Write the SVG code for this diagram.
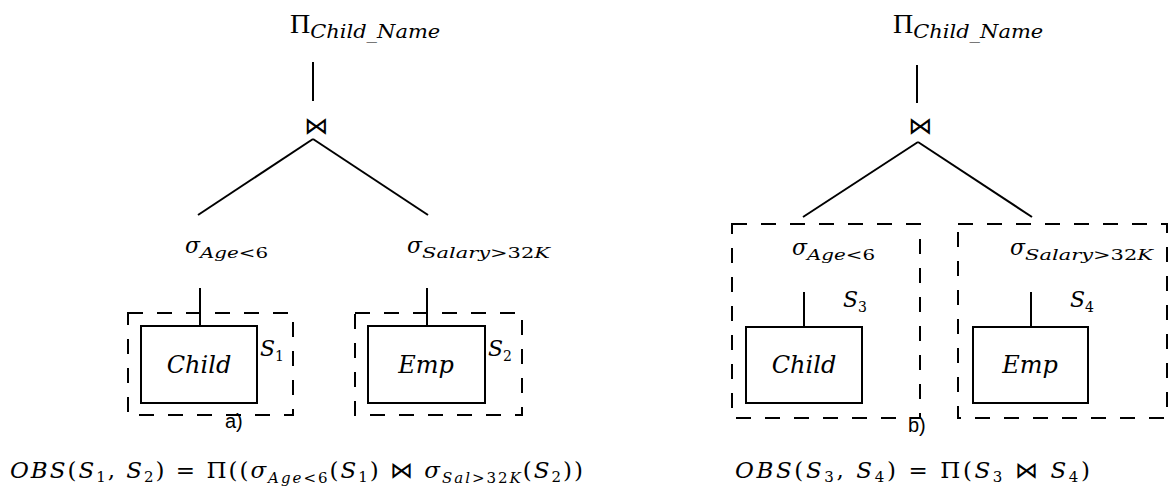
<svg xmlns="http://www.w3.org/2000/svg" width="1173" height="500" viewBox="0 0 1173 500">
<style>
.t{font-family:"DejaVu Serif","Liberation Serif",serif;fill:#000}
.i{font-style:italic}
.pi{font-size:28px;font-family:"Liberation Serif",serif}
.sub{font-size:18px;font-style:italic}
.sg{font-size:22px;font-style:italic}
.ss{font-size:15px}
.rel{font-size:24px;font-style:italic}
.s{font-size:22px;font-style:italic}
.sn{font-size:14px;font-style:normal}
.f{font-size:23px}
.fs{font-size:15px}
.j{font-family:"DejaVu Sans",sans-serif;font-size:24px;fill:#000}
.lab{font-family:"Liberation Sans","DejaVu Sans",sans-serif;font-size:20px;fill:#000}
.box{fill:#fff;stroke:#000;stroke-width:2}
.dash{fill:none;stroke:#000;stroke-width:2;stroke-dasharray:15 14}
.edge{stroke:#000;stroke-width:2;fill:none}
</style>
<rect width="1173" height="500" fill="#fff"/>

<g id="connectors">
<line class="edge" x1="313" y1="62" x2="313" y2="101"/>
<line class="edge" x1="313" y1="139" x2="198" y2="215"/>
<line class="edge" x1="313" y1="139" x2="428" y2="215"/>
<line class="edge" x1="200" y1="288" x2="200" y2="326"/>
<line class="edge" x1="427" y1="288" x2="427" y2="326"/>
<line class="edge" x1="917" y1="65" x2="917" y2="103"/>
<line class="edge" x1="918" y1="142" x2="803" y2="217"/>
<line class="edge" x1="918" y1="142" x2="1032" y2="217"/>
<line class="edge" x1="804" y1="292" x2="804" y2="327"/>
<line class="edge" x1="1031" y1="292" x2="1031" y2="327"/>
</g>

<!-- a) -->
<g id="proj-a"><text class="t" x="290" y="33"><tspan class="pi">Π</tspan><tspan class="sub" dy="5" textLength="130" lengthAdjust="spacingAndGlyphs">Child_Name</tspan></text></g>
<g id="join-a"><text class="j" x="316" y="134" text-anchor="middle">⋈</text></g>
<g id="sel-age-a"><text class="t" x="185" y="253"><tspan class="sg">σ</tspan><tspan class="ss" dy="5" textLength="68" lengthAdjust="spacingAndGlyphs"><tspan class="i">Age</tspan>&lt;6</tspan></text></g>
<g id="sel-sal-a"><text class="t" x="407" y="253"><tspan class="sg">σ</tspan><tspan class="ss" dy="5" textLength="128" lengthAdjust="spacingAndGlyphs"><tspan class="i">Salary</tspan>&gt;32<tspan class="i">K</tspan></tspan></text></g>
<g id="site-s1">
<rect class="dash" x="128" y="313" width="165" height="102"/>
<text class="t s" x="260" y="356">S<tspan class="sn" dy="5">1</tspan></text>
</g>
<g id="child-a">
<rect class="box" x="141" y="326" width="116" height="77"/>
<text class="t rel" x="199" y="373" text-anchor="middle">Child</text>
</g>
<g id="site-s2">
<rect class="dash" x="355" y="313" width="167" height="102"/>
<text class="t s" x="488" y="356">S<tspan class="sn" dy="5">2</tspan></text>
</g>
<g id="emp-a">
<rect class="box" x="368" y="326" width="117" height="77"/>
<text class="t rel" x="426" y="373" text-anchor="middle">Emp</text>
</g>
<g id="label-a"><text class="lab" x="225" y="428">a)</text></g>
<g id="formula-a"><text class="t f" x="10" y="478" textLength="573" lengthAdjust="spacing"><tspan class="i">OBS</tspan>(<tspan class="i">S</tspan><tspan class="fs" dy="4">1</tspan><tspan dy="-4">, </tspan><tspan class="i">S</tspan><tspan class="fs" dy="4">2</tspan><tspan dy="-4">) = Π((</tspan><tspan class="i">σ</tspan><tspan class="fs" dy="5"><tspan class="i">Age</tspan>&lt;6</tspan><tspan dy="-5">(</tspan><tspan class="i">S</tspan><tspan class="fs" dy="4">1</tspan><tspan dy="-4">) ⋈ </tspan><tspan class="i">σ</tspan><tspan class="fs" dy="5"><tspan class="i">Sal</tspan>&gt;32<tspan class="i">K</tspan></tspan><tspan dy="-5">(</tspan><tspan class="i">S</tspan><tspan class="fs" dy="4">2</tspan><tspan dy="-4">))</tspan></text></g>

<!-- b) -->
<g id="proj-b"><text class="t" x="893" y="33"><tspan class="pi">Π</tspan><tspan class="sub" dy="5" textLength="130" lengthAdjust="spacingAndGlyphs">Child_Name</tspan></text></g>
<g id="join-b"><text class="j" x="920" y="134" text-anchor="middle">⋈</text></g>
<g id="site-s3">
<rect class="dash" x="732" y="224" width="188" height="194"/>
<text class="t s" x="843" y="307">S<tspan class="sn" dy="5">3</tspan></text>
</g>
<g id="sel-age-b"><text class="t" x="792" y="255"><tspan class="sg">σ</tspan><tspan class="ss" dy="5" textLength="68" lengthAdjust="spacingAndGlyphs"><tspan class="i">Age</tspan>&lt;6</tspan></text></g>
<g id="child-b">
<rect class="box" x="746" y="327" width="116" height="76"/>
<text class="t rel" x="804" y="373" text-anchor="middle">Child</text>
</g>
<g id="site-s4">
<rect class="dash" x="958" y="224" width="209" height="194"/>
<text class="t s" x="1070" y="307">S<tspan class="sn" dy="5">4</tspan></text>
</g>
<g id="sel-sal-b"><text class="t" x="1010" y="255"><tspan class="sg">σ</tspan><tspan class="ss" dy="5" textLength="128" lengthAdjust="spacingAndGlyphs"><tspan class="i">Salary</tspan>&gt;32<tspan class="i">K</tspan></tspan></text></g>
<g id="emp-b">
<rect class="box" x="973" y="327" width="115" height="76"/>
<text class="t rel" x="1030" y="373" text-anchor="middle">Emp</text>
</g>
<g id="label-b"><text class="lab" x="908" y="432">b)</text></g>
<g id="formula-b"><text class="t f" x="735" y="478" textLength="355" lengthAdjust="spacing"><tspan class="i">OBS</tspan>(<tspan class="i">S</tspan><tspan class="fs" dy="4">3</tspan><tspan dy="-4">, </tspan><tspan class="i">S</tspan><tspan class="fs" dy="4">4</tspan><tspan dy="-4">) = Π(</tspan><tspan class="i">S</tspan><tspan class="fs" dy="4">3</tspan><tspan dy="-4"> ⋈ </tspan><tspan class="i">S</tspan><tspan class="fs" dy="4">4</tspan><tspan dy="-4">)</tspan></text></g>
</svg>
